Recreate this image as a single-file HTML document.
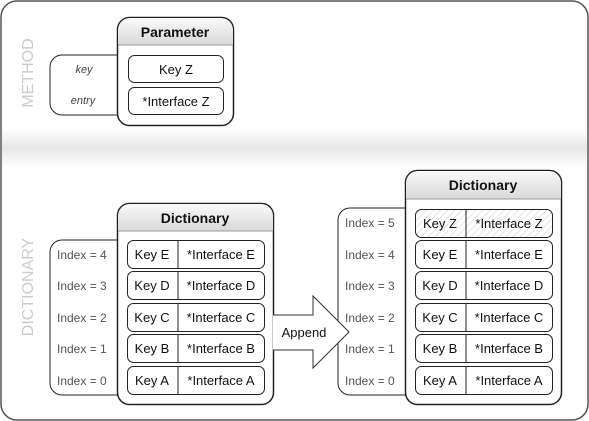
<!DOCTYPE html>
<html><head><style>body{margin:0;background:#fff}svg{display:block;font-family:"Liberation Sans",sans-serif}</style></head><body>
<svg width="589" height="421" viewBox="0 0 589 421" xmlns="http://www.w3.org/2000/svg">
<defs>
<linearGradient id="band" x1="0" y1="0" x2="0" y2="1"><stop offset="0" stop-color="#fff"/><stop offset="0.5" stop-color="#e6e6e6"/><stop offset="1" stop-color="#fff"/></linearGradient>
<linearGradient id="hdr" x1="0" y1="0" x2="0" y2="1"><stop offset="0" stop-color="#fafafa"/><stop offset="1" stop-color="#d8d8d8"/></linearGradient>
<pattern id="hatch" width="5" height="5" patternUnits="userSpaceOnUse" patternTransform="rotate(45)"><rect width="5" height="5" fill="#fff"/><line x1="0" y1="0" x2="0" y2="5" stroke="#ccc" stroke-width="1"/></pattern>
</defs>
<rect x="1" y="1" width="587" height="419" rx="16" fill="#fff" stroke="#555" stroke-width="1.5"/>
<rect x="2" y="128" width="585" height="40" fill="url(#band)"/>
<g fill="#ccc" font-size="16">
<text transform="translate(33,73) rotate(-90)" text-anchor="middle">METHOD</text>
<text transform="translate(33,287) rotate(-90)" text-anchor="middle">DICTIONARY</text>
</g>
<g stroke="#222" stroke-width="1" fill="#fff">
<path d="M118,55 H62 a12,12 0 0 0 -12,12 V103 a12,12 0 0 0 12,12 H118"/>
<rect x="117.5" y="17.5" width="116" height="108" rx="12" stroke-width="1.5"/>
<path d="M118,45 V30 a12,12 0 0 1 12,-12 H221 a12,12 0 0 1 12,12 V45 Z" fill="url(#hdr)" stroke="none"/>
<line x1="118" y1="45" x2="233" y2="45" stroke="#999"/>
<rect x="128.5" y="55.5" width="95" height="27" rx="6"/>
<rect x="128.5" y="87.5" width="95" height="27" rx="6"/>
<path d="M118,240 H62 a12,12 0 0 0 -12,12 V383 a12,12 0 0 0 12,12 H118"/>
<rect x="117.5" y="203.5" width="156" height="201" rx="12" stroke-width="1.5"/>
<path d="M118,231 V216 a12,12 0 0 1 12,-12 H261 a12,12 0 0 1 12,12 V231 Z" fill="url(#hdr)" stroke="none"/>
<line x1="118" y1="231" x2="273" y2="231" stroke="#999"/>
<path d="M406,208 H350 a12,12 0 0 0 -12,12 V383 a12,12 0 0 0 12,12 H406"/>
<rect x="405.5" y="170.5" width="156" height="234" rx="12" stroke-width="1.5"/>
<path d="M406,199 V183 a12,12 0 0 1 12,-12 H549 a12,12 0 0 1 12,12 V199 Z" fill="url(#hdr)" stroke="none"/>
<line x1="406" y1="199" x2="561" y2="199" stroke="#999"/>
<rect x="415.5" y="209.5" width="137" height="28" rx="6" fill="url(#hatch)"/>
<line x1="466" y1="210" x2="466" y2="237"/>
<path d="M273,315 H313 V296 L349,332 L313,368 V350 H273" stroke="#333"/>
</g>
<g font-size="14" font-weight="bold" text-anchor="middle" fill="#111">
<text x="175" y="37">Parameter</text>
<text x="195" y="223">Dictionary</text>
<text x="483" y="190">Dictionary</text>
</g>
<g font-size="13" text-anchor="middle" fill="#111">
<text x="176" y="74">Key Z</text>
<text x="176" y="106">*Interface Z</text>
<text x="304" y="337">Append</text>
<text x="440" y="228">Key Z</text><text x="509" y="228">*Interface Z</text>
</g>
<g font-size="11" font-style="italic" fill="#444" text-anchor="middle">
<text x="84" y="73">key</text><text x="83" y="104">entry</text>
</g>
<g stroke="#222" fill="#fff">
<rect x="127.5" y="240.5" width="137" height="28" rx="6"/><line x1="178" y1="241" x2="178" y2="268"/>
<rect x="127.5" y="271.5" width="137" height="28" rx="6"/><line x1="178" y1="272" x2="178" y2="299"/>
<rect x="127.5" y="303.5" width="137" height="28" rx="6"/><line x1="178" y1="304" x2="178" y2="331"/>
<rect x="127.5" y="334.5" width="137" height="28" rx="6"/><line x1="178" y1="335" x2="178" y2="362"/>
<rect x="127.5" y="366.5" width="137" height="28" rx="6"/><line x1="178" y1="367" x2="178" y2="394"/>
<rect x="415.5" y="240.5" width="137" height="28" rx="6"/><line x1="466" y1="241" x2="466" y2="268"/>
<rect x="415.5" y="271.5" width="137" height="28" rx="6"/><line x1="466" y1="272" x2="466" y2="299"/>
<rect x="415.5" y="303.5" width="137" height="28" rx="6"/><line x1="466" y1="304" x2="466" y2="331"/>
<rect x="415.5" y="334.5" width="137" height="28" rx="6"/><line x1="466" y1="335" x2="466" y2="362"/>
<rect x="415.5" y="366.5" width="137" height="28" rx="6"/><line x1="466" y1="367" x2="466" y2="394"/>
</g>
<g font-size="13" text-anchor="middle" fill="#111">
<text x="152" y="259">Key E</text><text x="221" y="259">*Interface E</text>
<text x="152" y="290">Key D</text><text x="221" y="290">*Interface D</text>
<text x="152" y="322">Key C</text><text x="221" y="322">*Interface C</text>
<text x="152" y="353">Key B</text><text x="221" y="353">*Interface B</text>
<text x="152" y="385">Key A</text><text x="221" y="385">*Interface A</text>
<text x="440" y="259">Key E</text><text x="509" y="259">*Interface E</text>
<text x="440" y="290">Key D</text><text x="509" y="290">*Interface D</text>
<text x="440" y="322">Key C</text><text x="509" y="322">*Interface C</text>
<text x="440" y="353">Key B</text><text x="509" y="353">*Interface B</text>
<text x="440" y="385">Key A</text><text x="509" y="385">*Interface A</text>
</g>
<g font-size="12" fill="#555">
<text x="57" y="259">Index = 4</text><text x="57" y="290">Index = 3</text><text x="57" y="322">Index = 2</text><text x="57" y="353">Index = 1</text><text x="57" y="385">Index = 0</text>
<text x="345" y="227">Index = 5</text><text x="345" y="259">Index = 4</text><text x="345" y="290">Index = 3</text><text x="345" y="322">Index = 2</text><text x="345" y="353">Index = 1</text><text x="345" y="385">Index = 0</text>
</g>
</svg>
</body></html>
